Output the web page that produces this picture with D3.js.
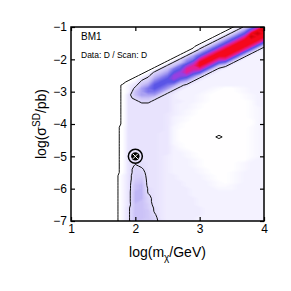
<!DOCTYPE html>
<html>
<head>
<meta charset="utf-8">
<script src="https://cdn.jsdelivr.net/npm/d3@7"></script>
<style>
  body { margin: 0; background: #fff; }
  text { font-family: "Liberation Sans", Arial, Helvetica, sans-serif; }
</style>
</head>
<body>
<svg id="chart"></svg>
<script>
const width = 291;
const height = 291;

// axis ticks
const xTicks = [1, 2, 3, 4];
const yTicks = [-1, -2, -3, -4, -5, -6, -7];

// grid of the likelihood map: columns x = 1..4, rows y = -1..-7 (top row first)
const gridX = [1, 4];
const gridY = [-1, -7];
const xCells = 31;
const credLevels = [0.5, 3.5];   // outer / inner contour lines
const benchmark = [2, -5];

// one base-36 digit per cell (value = digit / 3); rows are right aligned,
// missing cells on the left are 0
const density = [
  "6cirx",
  "6cirxz",
  "6cioxzx",
  "6ciouzxx",
  "6ciouxxxu",
  "6ciouxxxul",
  "6ciouxxxulc",
  "3ciouxxxulc6",
  "3ciouxxxulc66",
  "3ciouxxxulc666",
  "3ciluxxuulc6666",
  "3cflrxxuolc66666",
  "3cflruxuofc666666",
  "3cflouuuof96666666",
  "3cfiorurof966666666",
  "39filrrrlf9666666666",
  "39cilorolf96666666666",
  "36cfloooif966666666666",
  "269fioolic9666666666666",
  "26cilolic96666543345666",
  "26fillic966665433345666",
  "29fiiic9766654333334566",
  "29cffc99766654333334566",
  "299cc999776654333333466",
  "29999999766543333333466",
  "29999999766543333333456",
  "29999999765433333333456",
  "29999998765433333333456",
  "29999998654333333333456",
  "29999998654333333333356",
  "29999998643333333333356",
  "39999998543333333333456",
  "39999998533333333333456",
  "39999988533333333333456",
  "39999988533333303333456",
  "39999988533333333333456",
  "39999988543333333333456",
  "39999988643333333333456",
  "39999988654333333333456",
  "39999988665433333333456",
  "39999987665433333333456",
  "39999987666543333333566",
  "39aa9987666543333345666",
  "39ba9987666543333345666",
  "39cb9987666654333345666",
  "39cc9987666654333456666",
  "59dd9987766665433456666",
  "59de9987766665433456666",
  "59ef9987776666543456666",
  "59fg9987776666544566666",
  "59fga987777666655566666",
  "59gga987777666666666666",
  "59ggb987777666666666666",
  "59ggc987777766666666666",
  "59gfc987777766666666666",
  "59ffd987777766666666666",
  "5affda87777776666666666",
  "5affea87777776666666666",
  "5affeb87777776666666666",
  "5affec87777766666666666",
  "5afeec97777766666666666"
];

const svg = d3.select('#chart')
    .attr('width', width).attr('height', height);

const x = d3.scaleLinear().domain([1, 4]).range([71, 264]);
const y = d3.scaleLinear().domain([-7, -1]).range([221, 27]);

const color = d3.scaleLinear()
    .domain([0, 1, 2, 3, 4, 5, 6, 7, 8, 9, 10, 11, 12])
    .range(['#ffffff', '#ffffff', '#f4f2ff', '#e7e2fd', '#dbd5fa', '#cbc2f7', '#a9a0f2',
            '#7c74ec', '#5a55e6', '#9a3fe0', '#e2209c', '#f5081c', '#b80000'])
    .clamp(true);

const yCells = density.length;
const values = density.flatMap(r => Array.from(r.padStart(xCells, '0'), c => parseInt(c, 36) / 3));
const dx = (gridX[1] - gridX[0]) / (xCells - 1);
const dy = (gridY[1] - gridY[0]) / (yCells - 1);

// grid coordinates -> pixels
const toPlot = d3.geoTransform({
    point: function (px, py) {
        this.stream.point(x(gridX[0] + (px - 0.5) * dx), y(gridY[0] + (py - 0.5) * dy));
    }
});
const path = d3.geoPath(toPlot);

svg.append('clipPath').attr('id', 'plotclip')
    .append('rect')
    .attr('x', x(1)).attr('y', y(-1))
    .attr('width', x(4) - x(1)).attr('height', y(-7) - y(-1));

const plot = svg.append('g').attr('clip-path', 'url(#plotclip)');

drawMap();
drawContours();
drawAxes();
drawBenchmark();
drawLabels();

function drawMap() {
    const contours = d3.contours()
        .size([xCells, yCells])
        .thresholds(d3.range(0.5, 12.2, 0.12))(values);

    plot.append('g')
        .selectAll('path')
        .data(contours)
        .enter().append('path')
        .attr('d', path)
        .attr('fill', d => color(d.value + 0.06))
        .attr('stroke', 'none');
}

function drawContours() {
    const lines = d3.contours()
        .size([xCells, yCells])
        .thresholds(credLevels)(values);

    plot.append('g')
        .selectAll('path')
        .data(lines)
        .enter().append('path')
        .attr('d', path)
        .attr('fill', 'none')
        .attr('stroke', '#111')
        .attr('stroke-width', 1)
        .attr('stroke-linejoin', 'round');
}

function drawAxes() {
    const fmt = d3.format('d');

    const bottom = svg.append('g')
        .attr('transform', `translate(0,${y(-7)})`)
        .call(d3.axisBottom(x).tickValues(xTicks).tickSizeInner(-4).tickSizeOuter(0)
            .tickPadding(3.5).tickFormat(fmt));
    const left = svg.append('g')
        .attr('transform', `translate(${x(1)},0)`)
        .call(d3.axisLeft(y).tickValues(yTicks).tickSizeInner(-4).tickSizeOuter(0)
            .tickPadding(4).tickFormat(fmt));
    const top = svg.append('g')
        .attr('transform', `translate(0,${y(-1)})`)
        .call(d3.axisTop(x).tickValues(xTicks).tickSizeInner(-4).tickSizeOuter(0).tickFormat(''));
    const right = svg.append('g')
        .attr('transform', `translate(${x(4)},0)`)
        .call(d3.axisRight(y).tickValues(yTicks).tickSizeInner(-4).tickSizeOuter(0).tickFormat(''));

    [bottom, left, top, right].forEach(g => {
        g.select('.domain').remove();
        g.selectAll('line').attr('stroke', '#000').attr('stroke-width', 1.2);
        g.selectAll('text')
            .attr('font-size', 12)
            .attr('font-family', '"Liberation Sans", Arial, sans-serif')
            .attr('fill', '#000');
    });

    svg.append('rect')
        .attr('x', x(1)).attr('y', y(-1))
        .attr('width', x(4) - x(1)).attr('height', y(-7) - y(-1))
        .attr('fill', 'none')
        .attr('stroke', '#000')
        .attr('stroke-width', 1.5);
}

function drawBenchmark() {
    const cx = x(benchmark[0]);
    const cy = y(benchmark[1]);
    const g = svg.append('g').attr('transform', `translate(${cx},${cy})`);
    g.append('circle').attr('r', 7).attr('fill', 'none')
        .attr('stroke', '#000').attr('stroke-width', 1.5);
    g.append('circle').attr('r', 4.2).attr('fill', '#000');
    g.append('path')
        .attr('d', 'M-2.6,-2.6L2.6,2.6M-2.6,2.6L2.6,-2.6')
        .attr('stroke', '#fff').attr('stroke-width', 1);
}

function drawLabels() {
    svg.append('text')
        .attr('x', 81).attr('y', 40)
        .attr('font-size', 10)
        .text('BM1');
    svg.append('text')
        .attr('x', 81).attr('y', 58)
        .attr('font-size', 8.5)
        .text('Data: D / Scan: D');

    // x label
    const xl = svg.append('text')
        .attr('x', (x(1) + x(4)) / 2).attr('y', 257)
        .attr('text-anchor', 'middle')
        .attr('font-size', 14);
    xl.append('tspan').text('log(m');
    xl.append('tspan').attr('dy', 4).attr('font-size', 10).text('χ');
    xl.append('tspan').attr('dy', -4).text('/GeV)');

    // y label
    const yl = svg.append('text')
        .attr('transform', `translate(46,${(y(-1) + y(-7)) / 2}) rotate(-90)`)
        .attr('text-anchor', 'middle')
        .attr('font-size', 14);
    yl.append('tspan').text('log(σ');
    yl.append('tspan').attr('dy', -6).attr('font-size', 10).text('SD');
    yl.append('tspan').attr('dy', 6).text('/pb)');
}
</script>
</body>
</html>
